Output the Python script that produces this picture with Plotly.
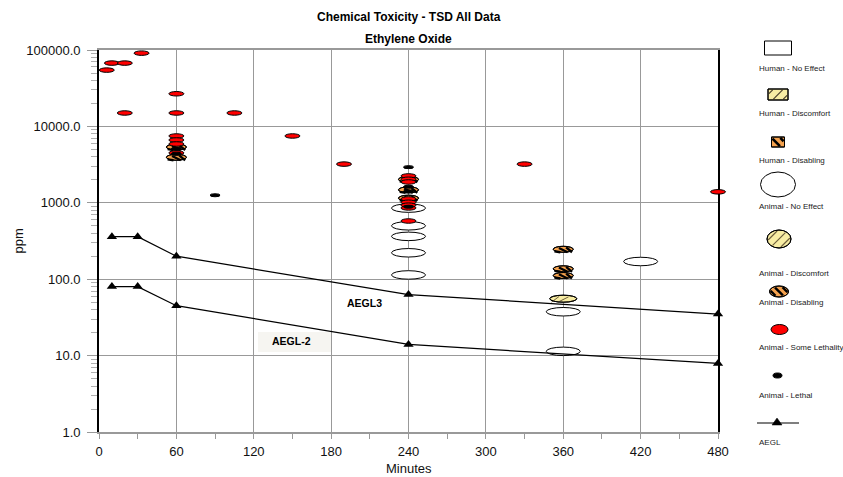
import math
import plotly.graph_objects as go

# ---------------- data ----------------
animal_no_effect_x = [240, 240, 240, 240, 240, 360, 360, 420]
animal_no_effect_y = [750, 440, 320, 195, 100, 33, 10, 150]

animal_discomfort_x = [360]
animal_discomfort_y = [50]

animal_disabling_x = [60, 60, 240, 240, 240, 360, 360, 360]
animal_disabling_y = [4900, 3600, 1850, 1350, 1050, 225, 125, 102]

animal_some_lethality_x = [6, 10, 20, 33, 20, 60, 60, 60, 60, 60, 60, 105, 150, 190,
                           240, 240, 240, 240, 240, 240, 240, 240, 330, 480]
animal_some_lethality_y = [51000, 63000, 63000, 85000, 14000, 25000, 14000, 7000, 6200, 5500, 4200,
                           14000, 7000, 3000, 2100, 1900, 1750, 1050, 950, 870, 800, 540, 3000, 1300]

animal_lethal_x = [60, 60, 90, 240, 240, 240, 240]
animal_lethal_y = [4900, 4200, 1200, 2800, 1550, 1350, 850]

aegl_x = [10, 30, 60, 240, 480]
aegl3_y = [360, 360, 200, 63, 35]
aegl2_y = [80, 80, 45, 14, 7.9]

x_tick_vals = [0, 60, 120, 180, 240, 300, 360, 420, 480]
x_tick_text = ["0", "60", "120", "180", "240", "300", "360", "420", "480"]
y_tick_vals = [1, 10, 100, 1000, 10000, 100000]
y_tick_text = ["1.0", "10.0", "100.0", "1000.0", "10000.0", "100000.0"]

legend_labels = ["Human - No Effect", "Human - Discomfort", "Human - Disabling",
                 "Animal - No Effect", "Animal - Discomfort", "Animal - Disabling",
                 "Animal - Some Lethality", "Animal - Lethal", "AEGL"]

# ---------------- geometry / styles ----------------
FONT = "Liberation Sans, Arial, sans-serif"
W, H = 843, 477
L, T = 99, 50          # plot left / top (px)
PR, PB = 718, 432      # plot right / bottom (px)
RM = 4
paper_w = W - RM - L
paper_h = PB - T
dom_end = (PR - L) / paper_w
X2_MAX = 480 * paper_w / (PR - L)

GRID = "#999999"
RED = "#ff0000"
ORANGE = "#f5a24e"
YELLOW = "#f8eda4"


def px(xp):
    return (xp - L) / paper_w


def py(yp):
    return (PB - yp) / paper_h


shapes = []


def ellipse(xa, ya, w, h, fill, xref="x2", yref="y2", lw=1, layer="between", kind="circle"):
    shapes.append(dict(type=kind, xref=xref, yref=yref, xsizemode="pixel", ysizemode="pixel",
                       xanchor=xa, yanchor=ya, x0=-w / 2, x1=w / 2, y0=-h / 2, y1=h / 2,
                       fillcolor=fill, line=dict(color="black", width=lw), layer=layer))


def chord(a, b, c, theta, kind):
    dx, dy = math.cos(theta), math.sin(theta)
    nx, ny = -dy, dx
    if kind == "circle":
        A = dx * dx / a / a + dy * dy / b / b
        B = 2 * c * (nx * dx / a / a + ny * dy / b / b)
        C = c * c * (nx * nx / a / a + ny * ny / b / b) - 1
        disc = B * B - 4 * A * C
        if disc <= 0:
            return None
        s1 = (-B - math.sqrt(disc)) / (2 * A)
        s2 = (-B + math.sqrt(disc)) / (2 * A)
    else:
        px0, py0 = c * nx, c * ny
        s1, s2 = -1e9, 1e9
        for p0, d, lim in ((px0, dx, a), (py0, dy, b)):
            if abs(d) < 1e-9:
                if abs(p0) > lim:
                    return None
                continue
            t1, t2 = (-lim - p0) / d, (lim - p0) / d
            s1, s2 = max(s1, min(t1, t2)), min(s2, max(t1, t2))
        if s2 <= s1:
            return None
    shrink = 0.6
    if s2 - s1 <= 2 * shrink:
        return None
    s1 += shrink
    s2 -= shrink
    return (c * nx + s1 * dx, c * ny + s1 * dy, c * nx + s2 * dx, c * ny + s2 * dy)


def stripes(xa, ya, w, h, theta, spacing, color, lw, xref="x2", yref="y2", layer="between",
            kind="circle", offset=0.0):
    a, b = w / 2 - 0.5, h / 2 - 0.5
    rng = int(max(w, h) / spacing) + 2
    for k in range(-rng, rng + 1):
        seg = chord(a, b, k * spacing + offset, theta, kind)
        if seg is None:
            continue
        x0, y0, x1, y1 = seg
        shapes.append(dict(type="line", xref=xref, yref=yref, xsizemode="pixel", ysizemode="pixel",
                           xanchor=xa, yanchor=ya, x0=x0, x1=x1, y0=y0, y1=y1,
                           line=dict(color=color, width=lw), layer=layer))


SLASH = math.pi / 4        # "/" direction
BACK = -math.pi / 4        # "\" direction

# ---------------- data marks (ellipses anchored to the axes) ----------------
for xv, yv in zip(animal_no_effect_x, animal_no_effect_y):
    ellipse(xv, yv, 34, 17, "white")
for xv, yv in zip(animal_discomfort_x, animal_discomfort_y):
    ellipse(xv, yv, 27, 14, YELLOW)
    stripes(xv, yv, 27, 14, SLASH, 7, "#6e5f3c", 1)
    ellipse(xv, yv, 27, 14, "rgba(0,0,0,0)")
for xv, yv in zip(animal_disabling_x, animal_disabling_y):
    ellipse(xv, yv, 20, 12, ORANGE)
    stripes(xv, yv, 20, 12, BACK, 5.5, "black", 2.4)
    ellipse(xv, yv, 20, 12, "rgba(0,0,0,0)")
for xv, yv in zip(animal_some_lethality_x, animal_some_lethality_y):
    ellipse(xv, yv, 15, 9, RED)
for xv, yv in zip(animal_lethal_x, animal_lethal_y):
    ellipse(xv, yv, 10, 6, "black")

# ---------------- legend (custom, symbol above label) ----------------
LX = 778
leg_sym_y = [48, 94.5, 142, 184.5, 239, 291.5, 329.5, 375.5, 423]
leg_lab_y = [68, 113, 160, 207, 273, 302, 347, 395, 442]
P = dict(xref="paper", yref="paper", layer="above")

ellipse(px(LX), py(leg_sym_y[0]), 27, 14, "white", kind="rect", **P)
ellipse(px(LX), py(leg_sym_y[1]), 20, 11, YELLOW, kind="rect", **P)
stripes(px(LX), py(leg_sym_y[1]), 20, 11, SLASH, 7, "#4a3f2a", 1.2, kind="rect", **P)
ellipse(px(LX), py(leg_sym_y[1]), 20, 11, "rgba(0,0,0,0)", kind="rect", **P)
ellipse(px(LX), py(leg_sym_y[2]), 13, 10, ORANGE, kind="rect", **P)
stripes(px(LX), py(leg_sym_y[2]), 13, 10, BACK, 6, "black", 2.6, kind="rect", offset=-1.5, **P)
ellipse(px(LX), py(leg_sym_y[2]), 13, 10, "rgba(0,0,0,0)", kind="rect", **P)
ellipse(px(LX), py(leg_sym_y[3]), 35, 25, "white", **P)
ellipse(px(LX + 1), py(leg_sym_y[4]), 24, 18, YELLOW, **P)
stripes(px(LX + 1), py(leg_sym_y[4]), 24, 18, SLASH, 7, "#6e5f3c", 1.2, **P)
ellipse(px(LX + 1), py(leg_sym_y[4]), 24, 18, "rgba(0,0,0,0)", **P)
ellipse(px(LX + 1), py(leg_sym_y[5]), 19, 11, ORANGE, **P)
stripes(px(LX + 1), py(leg_sym_y[5]), 19, 11, BACK, 5.5, "black", 2.4, **P)
ellipse(px(LX + 1), py(leg_sym_y[5]), 19, 11, "rgba(0,0,0,0)", **P)
ellipse(px(LX + 1.5), py(leg_sym_y[6]), 17, 10, RED, **P)
ellipse(px(LX - 0.5), py(leg_sym_y[7]), 9, 5, "black", **P)
shapes.append(dict(type="line", xref="paper", yref="paper", x0=px(757), x1=px(799),
                   y0=py(leg_sym_y[8]), y1=py(leg_sym_y[8]), line=dict(color="black", width=1.2)))
shapes.append(dict(type="path", xref="paper", yref="paper", xsizemode="pixel", ysizemode="pixel",
                   xanchor=px(777), yanchor=py(leg_sym_y[8]), path="M-5,-2 L5,-2 L0,5 Z",
                   fillcolor="black", line=dict(color="black", width=0.5)))

# AEGL-2 label box
shapes.append(dict(type="rect", xref="paper", yref="paper", x0=px(258), x1=px(332),
                   y0=py(352), y1=py(332), fillcolor="#f6f5f1", line=dict(width=0), layer="below"))

# ---------------- traces ----------------
fig = go.Figure()

# invisible hover layer on the main axes
for name, xs, ys in [("Animal - No Effect", animal_no_effect_x, animal_no_effect_y),
                     ("Animal - Discomfort", animal_discomfort_x, animal_discomfort_y),
                     ("Animal - Disabling", animal_disabling_x, animal_disabling_y),
                     ("Animal - Some Lethality", animal_some_lethality_x, animal_some_lethality_y),
                     ("Animal - Lethal", animal_lethal_x, animal_lethal_y)]:
    fig.add_trace(go.Scatter(x=xs, y=ys, mode="markers", name=name, showlegend=False,
                             marker=dict(size=12, opacity=0), xaxis="x", yaxis="y"))

for name, ys in [("AEGL3", aegl3_y), ("AEGL-2", aegl2_y)]:
    fig.add_trace(go.Scatter(x=aegl_x, y=ys, mode="lines+markers", name=name, showlegend=False,
                             line=dict(color="black", width=1.2),
                             marker=dict(symbol="triangle-up", size=9, color="black"),
                             xaxis="x2", yaxis="y2", cliponaxis=False))

# ---------------- annotations ----------------
ann = []


def text(xp, yp, s, size=13, bold=False, xanchor="center", angle=0, color="#111"):
    ann.append(dict(xref="paper", yref="paper", x=px(xp), y=py(yp), text=f"<b>{s}</b>" if bold else s,
                    showarrow=False, xanchor=xanchor, yanchor="middle", textangle=angle,
                    font=dict(family=FONT, size=size, color=color)))


text((L + PR) / 2, 17, "Chemical Toxicity - TSD All Data", size=12, bold=True, color="black")
text((L + PR) / 2, 39, "Ethylene Oxide", size=12, bold=True, color="black")
text(17.5, 241, "ppm", angle=-90)
text((L + PR) / 2, 468, "Minutes")
text(364, 303, "AEGL3", size=10.5, bold=True, color="black")
text(291, 341, "AEGL-2", size=10.5, bold=True, color="black")
for lab, yl in zip(legend_labels, leg_lab_y):
    text(757, yl, lab, size=8, xanchor="left", color="#222")

fig.update_layout(
    width=W, height=H,
    margin=dict(l=L, r=RM, t=T, b=H - PB, autoexpand=False),
    paper_bgcolor="white", plot_bgcolor="rgba(0,0,0,0)",
    font=dict(family=FONT, size=13, color="#111"),
    showlegend=False,
    xaxis=dict(domain=[0, dom_end], range=[0, 480], anchor="y",
               tickmode="array", tickvals=x_tick_vals, ticktext=x_tick_text,
               showgrid=True, gridcolor=GRID, gridwidth=1.3, zeroline=False,
               showline=True, linecolor=GRID, linewidth=1.5, mirror=True,
               ticks="outside", ticklen=5, tickwidth=1.2, tickcolor=GRID, ticklabelstandoff=2,
               minor=dict(tickmode="linear", tick0=0, dtick=30, ticks="outside", ticklen=5,
                          tickwidth=1.2, tickcolor=GRID, showgrid=False),
               tickfont=dict(family=FONT, size=13, color="#111")),
    yaxis=dict(domain=[0, 1], type="log", range=[0, 5], anchor="x",
               tickmode="array", tickvals=y_tick_vals, ticktext=y_tick_text,
               showgrid=True, gridcolor=GRID, gridwidth=1.3, zeroline=False,
               showline=True, linecolor="black", linewidth=1.8, mirror=True,
               ticks="outside", ticklen=10, tickwidth=1.2, tickcolor=GRID, ticklabelstandoff=4,
               minor=dict(tickmode="array",
                          tickvals=[m * 10 ** e for e in range(5) for m in range(2, 10)],
                          ticks="outside", ticklen=6, tickwidth=1, tickcolor="#b0b0b0", showgrid=False),
               tickfont=dict(family=FONT, size=13, color="#111")),
    xaxis2=dict(domain=[0, 1], range=[0, X2_MAX], anchor="y2", visible=False, fixedrange=True),
    yaxis2=dict(domain=[0, 1], type="log", range=[0, 5], anchor="x2", visible=False, fixedrange=True),
    shapes=shapes,
    annotations=ann,
)

fig.write_html("out.html", config={"displayModeBar": False},
               post_script="document.body.style.margin='0';")
